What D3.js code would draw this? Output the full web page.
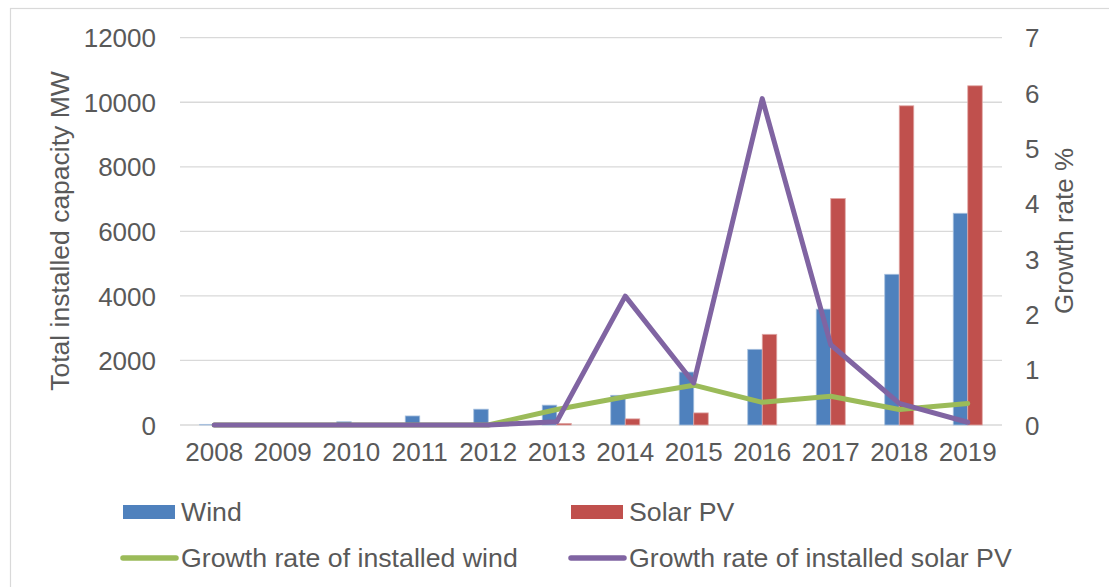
<!DOCTYPE html>
<html>
<head>
<meta charset="utf-8">
<script src="https://cdn.jsdelivr.net/npm/d3@7"></script>
<style>
  html, body { margin: 0; padding: 0; background: #fff; }
  svg text { font-family: "Liberation Sans", Arial, sans-serif; fill: #595959; }
</style>
</head>
<body>
<svg id="chart" width="1109" height="587"></svg>
<script>
// Installed capacity (MW) and annual growth rates, 2008–2019
const years = ["2008","2009","2010","2011","2012","2013","2014","2015","2016","2017","2018","2019"];
const windMW  = [20, 30, 100, 280, 490, 615, 920, 1640, 2345, 3590, 4670, 6560];
const solarMW = [0, 0, 0, 0, 5, 50, 190, 375, 2810, 7020, 9890, 10510];
const windGrowth  = [0, 0, 0, 0, 0, 0.28, 0.51, 0.72, 0.41, 0.52, 0.28, 0.39];
const solarGrowth = [0, 0, 0, 0, 0, 0.06, 2.33, 0.76, 5.9, 1.45, 0.39, 0.05];
const leftTicks  = [0, 2000, 4000, 6000, 8000, 10000, 12000];
const rightTicks = [0, 1, 2, 3, 4, 5, 6, 7];

const colors = { wind: "#4F81BD", solar: "#C0504D", windLine: "#9BBB59", solarLine: "#8064A2" };

const svg = d3.select("#chart");

// outer chart frame
svg.append("rect")
  .attr("x", 10.5).attr("y", 8.5).attr("width", 1120).attr("height", 600)
  .attr("fill", "none").attr("stroke", "#d9d9d9").attr("stroke-width", 1.2);

const plot = { left: 180, right: 1002, top: 37.7, bottom: 425 };

const x = d3.scaleBand().domain(years).range([plot.left, plot.right]).padding(0);
const xSub = d3.scaleBand().domain(["wind", "solar"]).range([0, x.bandwidth()])
  .paddingInner(0).paddingOuter(1.36);
const yL = d3.scaleLinear().domain([0, 12000]).range([plot.bottom, plot.top]);
const yR = d3.scaleLinear().domain([0, 7]).range([plot.bottom, plot.top]);

// horizontal gridlines
svg.append("g").selectAll("line").data(leftTicks).join("line")
  .attr("x1", plot.left).attr("x2", plot.right)
  .attr("y1", d => yL(d)).attr("y2", d => yL(d))
  .attr("stroke", "#d9d9d9").attr("stroke-width", 1.3);

// left axis
const axL = svg.append("g").attr("transform", `translate(${plot.left - 24},0)`)
  .call(d3.axisLeft(yL).tickValues(leftTicks).tickSize(0).tickPadding(0).tickFormat(d3.format("d")));
axL.select(".domain").remove();
axL.selectAll("text").style("font-size", "26px").attr("fill", "#595959").attr("dy", "0.35em");

// right axis
const axR = svg.append("g").attr("transform", `translate(${plot.right + 23},0)`)
  .call(d3.axisRight(yR).tickValues(rightTicks).tickSize(0).tickPadding(0).tickFormat(d3.format("d")));
axR.select(".domain").remove();
axR.selectAll("text").style("font-size", "26px").attr("fill", "#595959").attr("dy", "0.35em");

// x axis labels
const axB = svg.append("g").attr("transform", `translate(0,${plot.bottom + 18})`)
  .call(d3.axisBottom(x).tickSize(0).tickPadding(0));
axB.select(".domain").remove();
axB.selectAll("text").style("font-size", "26px").attr("fill", "#595959").attr("dy", "0.71em");

// axis titles
svg.append("text")
  .attr("transform", `translate(69,231) rotate(-90)`)
  .attr("text-anchor", "middle").style("font-size", "26.5px")
  .text("Total installed capacity MW");
svg.append("text")
  .attr("transform", `translate(1073,231) rotate(-90)`)
  .attr("text-anchor", "middle").style("font-size", "26px")
  .text("Growth rate %");

// clustered bars
const barData = years.map((yr, i) => ({ yr, wind: windMW[i], solar: solarMW[i] }));
const groups = svg.append("g").selectAll("g").data(barData).join("g")
  .attr("transform", d => `translate(${x(d.yr)},0)`);
groups.selectAll("rect")
  .data(d => [{ key: "wind", v: d.wind }, { key: "solar", v: d.solar }])
  .join("rect")
  .attr("x", d => xSub(d.key))
  .attr("width", xSub.bandwidth())
  .attr("y", d => yL(d.v))
  .attr("height", d => yL(0) - yL(d.v))
  .attr("fill", d => colors[d.key])
  .attr("stroke", d => d.key === "wind" ? "#a7c0de" : "#e0a8a6")
  .attr("stroke-width", 0.8);

// growth-rate lines on the secondary axis
const line = d3.line()
  .x((d, i) => x(years[i]) + x.bandwidth() / 2)
  .y(d => yR(d));
svg.append("path").datum(windGrowth)
  .attr("d", line).attr("fill", "none")
  .attr("stroke", colors.windLine).attr("stroke-width", 5)
  .attr("stroke-linejoin", "round").attr("stroke-linecap", "round");
svg.append("path").datum(solarGrowth)
  .attr("d", line).attr("fill", "none")
  .attr("stroke", colors.solarLine).attr("stroke-width", 5)
  .attr("stroke-linejoin", "round").attr("stroke-linecap", "round");

// legend
const legend = svg.append("g");
const legendItems = [
  { label: "Wind", type: "rect", color: colors.wind, x: 123, y: 512 },
  { label: "Solar PV", type: "rect", color: colors.solar, x: 571, y: 512 },
  { label: "Growth rate of installed wind", type: "line", color: colors.windLine, x: 123, y: 558 },
  { label: "Growth rate of installed solar PV", type: "line", color: colors.solarLine, x: 571, y: 558 }
];
legendItems.forEach(it => {
  const g = legend.append("g").attr("transform", `translate(${it.x},${it.y})`);
  if (it.type === "rect") {
    g.append("rect").attr("x", 0).attr("y", -7).attr("width", 52).attr("height", 14).attr("fill", it.color);
  } else {
    g.append("line").attr("x1", 0).attr("x2", 53).attr("y1", 0).attr("y2", 0)
      .attr("stroke", it.color).attr("stroke-width", 5.5).attr("stroke-linecap", "round");
  }
  g.append("text").attr("x", 58).attr("y", 0).attr("dy", "0.35em")
    .style("font-size", "26.7px").text(it.label);
});
</script>
</body>
</html>
